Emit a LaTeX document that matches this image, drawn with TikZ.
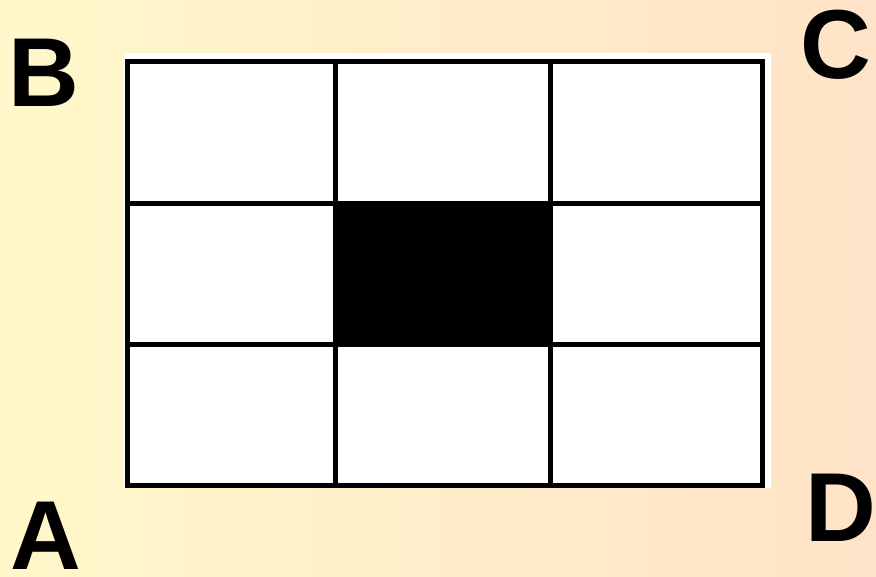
\documentclass[tikz,border=0pt]{standalone}
\usepackage{fontspec}
\setmainfont{Liberation Sans}
\definecolor{bgleft}{RGB}{255,248,202}
\definecolor{bgright}{RGB}{255,227,200}
\tikzset{
  corner/.style={font=\bfseries\fontsize{98}{98}\selectfont, inner sep=0pt, text=black},
  gridline/.style={line width=5pt, black},
}
\begin{document}
\begin{tikzpicture}[x=1pt,y=-1pt]
\useasboundingbox (0,0) rectangle (876,577);
\shade[left color=bgleft, right color=bgright] (0,0) rectangle (876,577);
% white picture area
\fill[white] (124,53) rectangle (771,488);
% centre black cell
\fill[black] (335,204) rectangle (550,345);
% grid
\draw[gridline] (127,62) rectangle (762,485);
\draw[gridline] (335,62) -- (335,485);
\draw[gridline] (550,62) -- (550,485);
\draw[gridline] (127,204) -- (762,204);
\draw[gridline] (127,345) -- (762,345);
% corner labels
\node[corner] (B) at (43.5,73) {B};
\node[corner] (C) at (836,45) {C};
\node[corner] (A) at (45.5,536) {A};
\node[corner] (D) at (841,508) {D};
\end{tikzpicture}
\end{document}
